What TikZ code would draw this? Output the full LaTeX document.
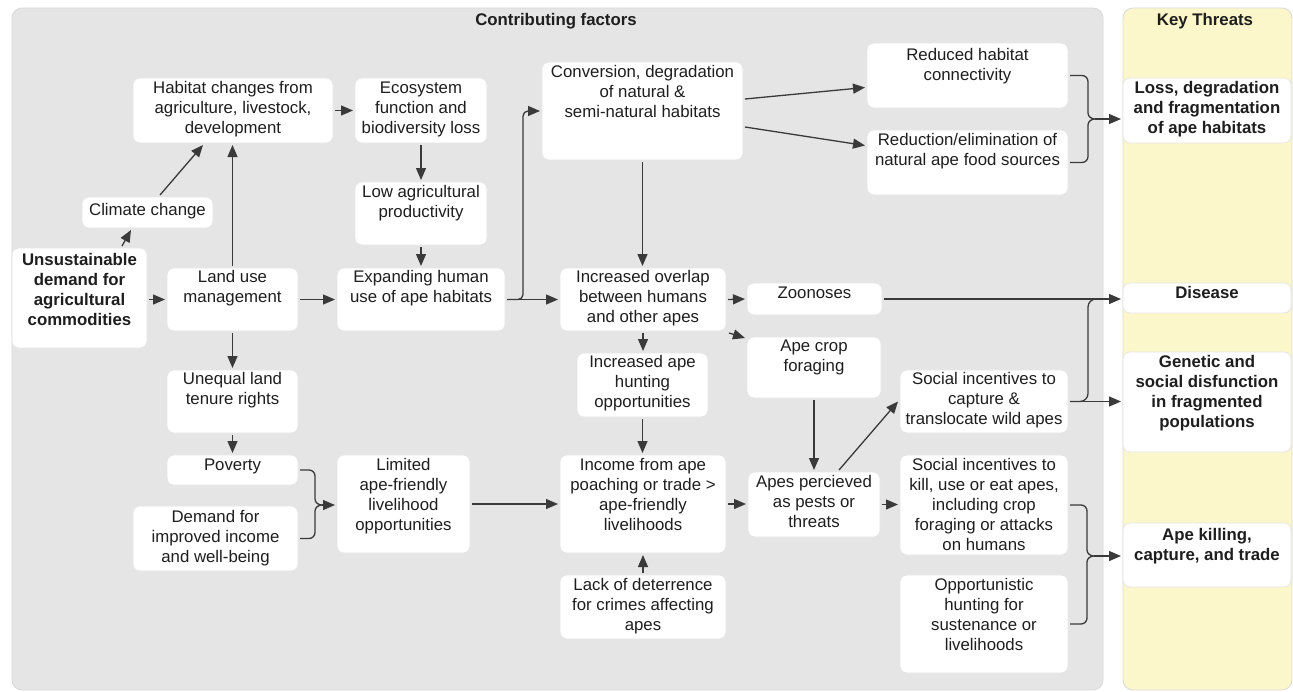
\documentclass[tikz,border=0pt]{standalone}
\usepackage{fontspec}
\setmainfont{Liberation Sans}
\usetikzlibrary{arrows.meta,calc}
\definecolor{panelgray}{HTML}{E5E5E5}
\definecolor{threatyellow}{HTML}{FCF7CA}
\definecolor{linecol}{HTML}{3A3A3A}
\definecolor{txtcol}{HTML}{1E1E1E}
\tikzset{
 box/.style={draw=black!10, line width=0.8pt, fill=white, rounded corners=7pt, inner sep=0pt, outer sep=2pt},
 panel/.style={draw=black!15, line width=0.8pt, rounded corners=10pt, inner sep=0pt, outer sep=0pt},
 txt/.style={font=\fontsize{16.8}{20}\selectfont, text=txtcol, align=center, inner sep=0pt, anchor=north},
 btxt/.style={txt, font=\fontsize{16.8}{20}\selectfont\bfseries},
 ln/.style={draw=linecol, line width=1.3pt},
 arr/.style={ln, -{Triangle[length=12pt,width=10pt]}},
}
% #1 name, #2 x1, #3 y1, #4 x2, #5 y2, #6 first-line centre y, #7 text style, #8 text
\newcommand{\mybox}[8]{%
 \node[box, minimum width={#4-#2}, minimum height={#5-#3}] (#1) at ({(#2+#4)/2},{(#3+#5)/2}) {};
 \node[#7] (#1-t) at ({(#2+#4)/2},{#6-9}) {\strut #8};
}
% #1 top node, #2 bottom node, #3 x of vertical, #4 y top, #5 y bottom, #6 y tip, #7 tip name
\newcommand{\mybrace}[7]{%
 \coordinate (#7) at ({#3+7},#6);
 \draw[ln] (#1.east) -- ({#3-6},#4) to[out=0,in=90] (#3,{#4+6}) -- (#3,{#6-6}) to[out=-90,in=180] (#7)
   to[out=180,in=90] (#3,{#6+6}) -- (#3,{#5-6}) to[out=-90,in=0] ({#3-6},#5) -- (#2.east);
}
\begin{document}
\begin{tikzpicture}[x=1pt,y=-1pt]
\useasboundingbox (0,0) rectangle (1293,691);
\fill[white] (0,0) rectangle (1293,691);
% panels
\node[panel, fill=panelgray, minimum width=1091, minimum height=682] (cfpanel) at (557.5,349) {};
\node[panel, fill=threatyellow, minimum width=169, minimum height=682] (ktpanel) at (1207.5,349) {};
\node[btxt, anchor=base] (cftitle) at (556,25) {Contributing factors};
\node[btxt, anchor=base] (kttitle) at (1205,25) {Key Threats};
% boxes
\mybox{hab}{133}{78}{333}{143}{88}{txt}{Habitat changes from\\agriculture, livestock,\\development}
\mybox{eco}{355}{78}{487}{143}{88}{txt}{Ecosystem\\function and\\biodiversity loss}
\mybox{clim}{82}{197}{213}{228}{210}{txt}{Climate change}
\mybox{low}{355}{182}{487}{245}{192}{txt}{Low agricultural\\productivity}
\mybox{conv}{542}{62}{743}{160}{72}{txt}{Conversion, degradation\\of natural \&\\semi-natural habitats}
\mybox{red}{867}{43}{1068}{108}{55}{txt}{Reduced habitat\\connectivity}
\mybox{elim}{867}{130}{1068}{195}{140}{txt}{Reduction/elimination of\\natural ape food sources}
\mybox{loss}{1123}{78}{1291}{143}{88}{btxt}{Loss, degradation\\and fragmentation\\of ape habitats}
\mybox{uns}{12}{248}{147}{348}{260}{btxt}{Unsustainable\\demand for\\agricultural\\commodities}
\mybox{land}{167}{268}{298}{331}{277}{txt}{Land use\\management}
\mybox{exp}{337}{268}{505}{331}{277}{txt}{Expanding human\\use of ape habitats}
\mybox{over}{560}{268}{726}{331}{277}{txt}{Increased overlap\\between humans\\and other apes}
\mybox{zoo}{747}{283}{882}{315}{293}{txt}{Zoonoses}
\mybox{crop}{747}{337}{881}{398}{346}{txt}{Ape crop\\foraging}
\mybox{hunt}{577}{353}{708}{417}{362}{txt}{Increased ape\\hunting\\opportunities}
\mybox{uneq}{167}{370}{298}{433}{379}{txt}{Unequal land\\tenure rights}
\mybox{pov}{167}{455}{298}{485}{465}{txt}{Poverty}
\mybox{dem}{133}{506}{298}{571}{517}{txt}{Demand for\\improved income\\and well-being}
\mybox{lim}{337}{455}{470}{553}{465}{txt}{Limited\\ape-friendly\\livelihood\\opportunities}
\mybox{inc}{560}{455}{726}{553}{465}{txt}{Income from ape\\poaching or trade >\\ape-friendly\\livelihoods}
\mybox{lack}{560}{575}{726}{639}{585}{txt}{Lack of deterrence\\for crimes affecting\\apes}
\mybox{pest}{748}{472}{880}{537}{482}{txt}{Apes percieved\\as pests or\\threats}
\mybox{cap}{900}{370}{1068}{433}{379}{txt}{Social incentives to\\capture \&\\translocate wild apes}
\mybox{kill}{900}{455}{1068}{555}{465}{txt}{Social incentives to\\kill, use or eat apes,\\including crop\\foraging or attacks\\on humans}
\mybox{opp}{900}{575}{1068}{673}{585}{txt}{Opportunistic\\hunting for\\sustenance or\\livelihoods}
\mybox{dis}{1123}{283}{1291}{313}{293}{btxt}{Disease}
\mybox{gen}{1123}{352}{1291}{452}{362}{btxt}{Genetic and\\social disfunction\\in fragmented\\populations}
\mybox{akill}{1123}{523}{1291}{587}{535}{btxt}{Ape killing,\\capture, and trade}
% connectors
\draw[arr] (uns.east |- land.west) -- (land.west);
\draw[arr] ([xshift=-27pt]uns.north east) -- ([xshift=51pt]clim.south west);
\draw[arr] ([xshift=80pt]clim.north west) -- ([xshift=72pt]hab.south west);
\draw[arr] (land.north) -- (land.north |- hab.south);
\draw[arr] (land.south) -- (land.south |- uneq.north);
\draw[arr] (uneq.south) -- (uneq.south |- pov.north);
\draw[arr] (hab.east) -- (eco.west);
\draw[arr] (eco.south) -- (low.north);
\draw[arr] (low.south) -- (low.south |- exp.north);
\draw[arr] (land.east) -- (exp.west);
\draw[arr, rounded corners=5pt] (exp.east) -- ++(16,0) |- (conv.west);
\draw[arr] (exp.east) -- (over.west);
\draw[arr] (conv.south) -- (conv.south |- over.north);
\draw[arr] ([yshift=12pt]conv.east) -- ([yshift=-12pt]red.west);
\draw[arr] ([yshift=-16pt]conv.east) -- ([yshift=17pt]elim.west);
\mybrace{red}{elim}{1088}{75.5}{162.5}{119}{b1}
\draw[arr] (b1) -- (b1 -| loss.west);
\draw[arr] (over.east) -- (zoo.west);
\draw[arr] ([xshift=1pt]over.south east) -- ([yshift=-3pt]crop.north west);
\draw[arr] (over.south) -- (over.south |- hunt.north);
\draw[arr] (zoo.east) -- (zoo.east -| dis.west);
\coordinate (j2) at (1100,299);
\draw[ln, rounded corners=8pt] (cap.east) -| ([xshift=-12pt]j2) -- (j2);
\draw[arr] (cap.east) -- (cap.east -| gen.west);
\draw[arr] (crop.south) -- (crop.south |- pest.north);
\draw[arr] (hunt.south) -- (hunt.south |- inc.north);
\draw[arr] (lim.east) -- (lim.east -| inc.west);
\draw[arr] (lack.north) -- (lack.north |- inc.south);
\draw[arr] (inc.east) -- (inc.east -| pest.west);
\draw[arr] ([xshift=-43pt]pest.north east) -- (cap.west);
\draw[arr] (pest.east) -- (pest.east -| kill.west);
\mybrace{pov}{dem}{315}{470}{538.5}{505}{b2}
\draw[arr] (b2) -- (b2 -| lim.west);
\mybrace{kill}{opp}{1087}{505}{624}{556}{b3}
\draw[arr] (b3) -- (b3 -| akill.west);
\end{tikzpicture}
\end{document}
